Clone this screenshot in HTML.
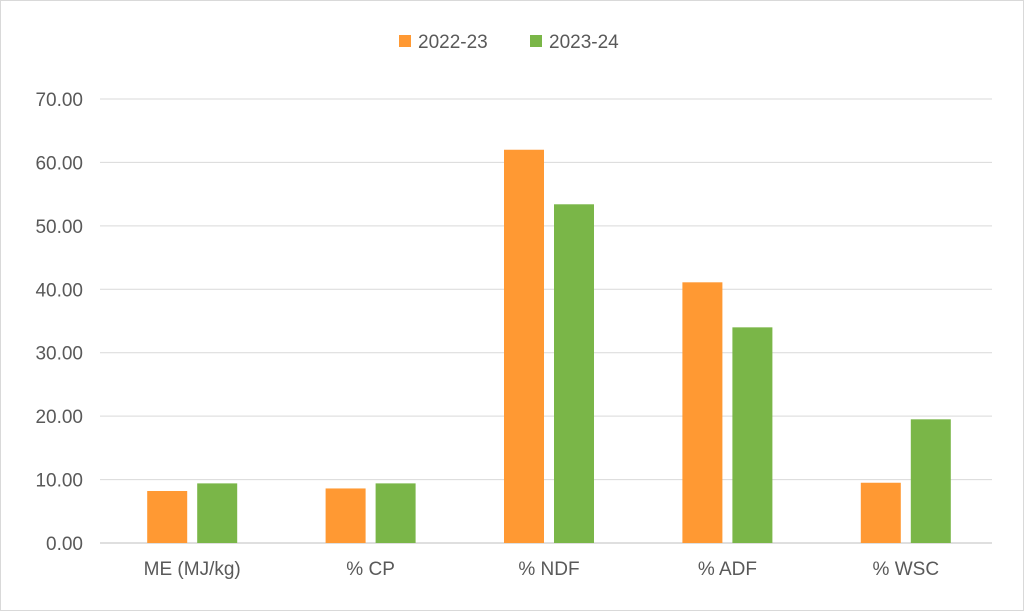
<!DOCTYPE html>
<html><head><meta charset="utf-8"><style>
body{margin:0;background:#fff;}
svg text{font-family:"Liberation Sans",sans-serif;fill:#595959;}
</style></head><body>
<svg width="1024" height="611" xmlns="http://www.w3.org/2000/svg">
<rect x="0.5" y="0.5" width="1023" height="610" fill="#fff" stroke="#d9d9d9"/>
<g id="grid"></g><g id="bars"></g><g id="labels"></g>
<g>
<rect x="399" y="35" width="12" height="12" fill="#ff9933"/>
<text x="418" y="48" font-size="19">2022-23</text>
<rect x="530" y="35" width="12" height="12" fill="#7ab648"/>
<text x="549" y="48" font-size="19">2023-24</text>
</g>
</svg>
<script>
const categories=["ME (MJ/kg)","% CP","% NDF","% ADF","% WSC"];
const series2022=[8.2,8.6,62.0,41.1,9.5];
const series2023=[9.4,9.4,53.4,34.0,19.5];
const ticks=[0,10,20,30,40,50,60,70];
const ns="http://www.w3.org/2000/svg";
const x0=100,x1=992,yBase=543,yTop=99,maxV=70;
const y=v=>yBase-(v/maxV)*(yBase-yTop);
const band=(x1-x0)/categories.length;
const g=document.getElementById('grid'),b=document.getElementById('bars'),l=document.getElementById('labels');
function mk(t,a,p){const e=document.createElementNS(ns,t);for(const k in a)e.setAttribute(k,a[k]);p.appendChild(e);return e;}
ticks.forEach(t=>{
 const ln=mk('line',{x1:x0,x2:x1,y1:y(t),y2:y(t),stroke:t===0?'#bfbfbf':'#d9d9d9','stroke-width':1},g);
 
 
 const tx=mk('text',{x:83,y:y(t)+7,'font-size':19,'text-anchor':'end'},g);
 tx.textContent=t.toFixed(2);
 
 
});
categories.forEach((c,i)=>{
 const cx=x0+band*(i+0.5);
 const r1=mk('rect',{x:cx-42,y:y(series2022[i]),width:40,height:yBase-y(series2022[i]),fill:'#ff9933'},b);
 
 
 const r2=mk('rect',{x:cx+8,y:y(series2023[i]),width:40,height:yBase-y(series2023[i]),fill:'#7ab648'},b);
 
 
 const t=mk('text',{x:cx+3,y:575,'font-size':19,'text-anchor':'middle'},l);
 t.textContent=c;
 
 
});
</script>
</body></html>
